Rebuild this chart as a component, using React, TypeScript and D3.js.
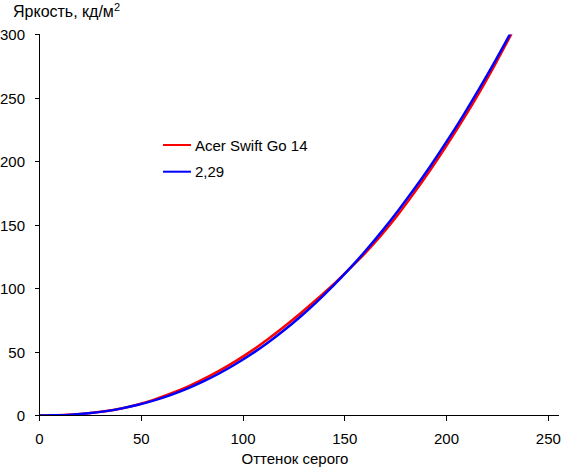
import * as d3 from "d3";

// Grey level steps (0..255) and measured brightness, cd/m²
const grayLevels = [
  0, 8, 16, 24, 32, 40, 48, 56, 64, 72, 80, 88, 96, 104, 112, 120, 128, 136,
  144, 152, 160, 168, 176, 184, 192, 200, 208, 216, 224, 232, 240, 248, 255,
];
const acerValues = [
  0, 0.14, 0.7, 1.7, 3.3, 5.5, 8.5, 12.3, 16.9, 22.1, 28.2, 34.9, 42.4, 50.7,
  59.9, 69.7, 80.1, 91.1, 102.6, 115.0, 127.8, 142.1, 157.9, 175.1, 193.3,
  212.6, 232.8, 254.1, 276.9, 300.8, 325.3, 350.8, 374,
];
const gammaValues = [
  0, 0.14, 0.66, 1.68, 3.24, 5.41, 8.21, 11.69, 15.86, 20.77, 26.43, 32.88,
  40.14, 48.22, 57.14, 66.92, 77.59, 89.12, 101.6, 115.0, 129.3, 144.6, 160.9,
  178.1, 196.3, 215.6, 235.8, 257.1, 279.4, 302.8, 327.3, 352.8, 376,
];
const xTicks = [0, 50, 100, 150, 200, 250];
const yTicks = [0, 50, 100, 150, 200, 250, 300];
const seriesNames = ["Acer Swift Go 14", "2,29"];
const seriesColors = ["#ff0000", "#0000ff"];

const FONT = "'Liberation Sans', Arial, sans-serif";

export default function App() {
  const width = 561;
  const height = 469;
  const x = d3.scaleLinear().domain([0, 255]).range([39.5, 558.5]);
  const y = d3.scaleLinear().domain([0, 300]).range([415.5, 34.5]);

  const line = d3
    .line<number>()
    .x((_, i) => x(grayLevels[i]))
    .y((d) => y(d))
    .curve(d3.curveMonotoneX);

  const series = [acerValues, gammaValues];

  return (
    <svg
      width={width}
      height={height}
      style={{ position: "absolute", left: 0, top: 0, background: "#fff" }}
      fontFamily={FONT}
    >
      <defs>
        <clipPath id="plot-clip">
          <rect x={x(0)} y={y(300)} width={x(255) - x(0)} height={y(0) - y(300)} />
        </clipPath>
      </defs>

      {/* y axis title */}
      <text x={13} y={17} fontSize={16} fill="#000">
        Яркость, кд/м
        <tspan fontSize={11} dy={-6}>2</tspan>
      </text>

      {/* curves */}
      <g clipPath="url(#plot-clip)">
        {series.map((vals, i) => (
          <path
            key={seriesNames[i]}
            d={line(vals) as string}
            fill="none"
            stroke={seriesColors[i]}
            strokeWidth={2.5}
          />
        ))}
      </g>

      {/* axes */}
      <g stroke="#000" strokeWidth={1} shapeRendering="crispEdges">
        <line x1={x(0)} x2={x(0)} y1={y(300)} y2={y(0)} />
        <line x1={x(0)} x2={x(255)} y1={y(0)} y2={y(0)} />
        {yTicks.map((t) => (
          <line key={"yt" + t} x1={x(0) - 5} x2={x(0)} y1={y(t)} y2={y(t)} />
        ))}
        {xTicks.map((t) => (
          <line key={"xt" + t} x1={x(t)} x2={x(t)} y1={y(0)} y2={y(0) + 5} />
        ))}
      </g>

      {yTicks.map((t) => (
        <text
          key={"yl" + t}
          x={25}
          y={y(t) + 5.5}
          fontSize={15}
          textAnchor="end"
          fill="#000"
        >
          {t}
        </text>
      ))}
      {xTicks.map((t) => (
        <text
          key={"xl" + t}
          x={x(t)}
          y={443.5}
          fontSize={15}
          textAnchor="middle"
          fill="#000"
        >
          {t}
        </text>
      ))}
      <text x={295} y={464} fontSize={15} textAnchor="middle" fill="#000">
        Оттенок серого
      </text>

      {/* legend */}
      {seriesNames.map((name, i) => (
        <g key={"lg" + name} transform={`translate(163, ${145 + i * 26.7})`}>
          <line x1={0} x2={28} y1={0} y2={0} stroke={seriesColors[i]} strokeWidth={2} />
          <text x={32} y={5.5} fontSize={15} fill="#000">
            {name}
          </text>
        </g>
      ))}
    </svg>
  );
}
